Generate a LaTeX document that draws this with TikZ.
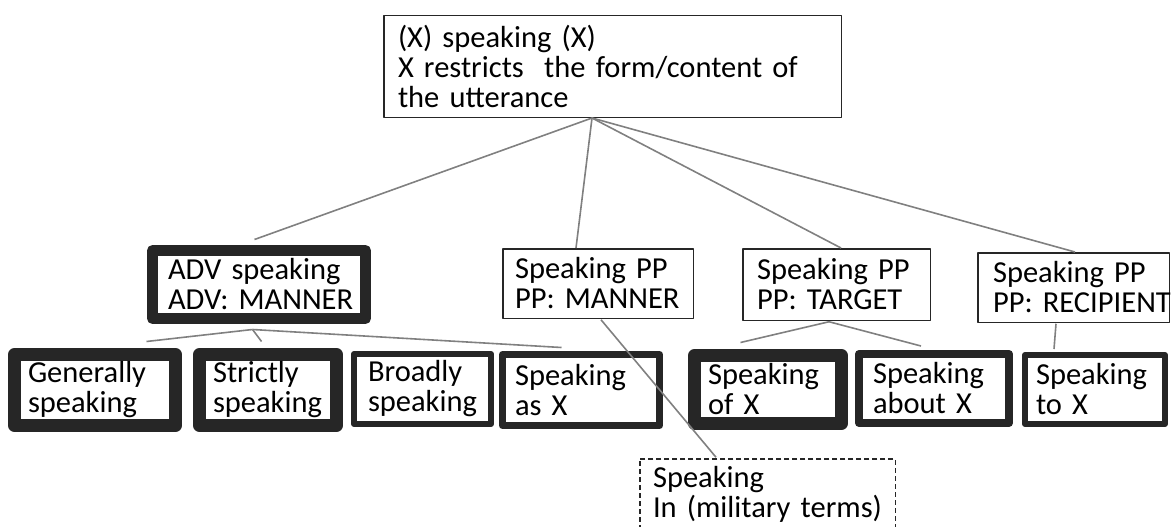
\documentclass[tikz,border=0pt]{standalone}
\usepackage{fontspec}
\setmainfont{Carlito}
\usetikzlibrary{calc}
\begin{document}
\begin{tikzpicture}[x=1pt,y=-1pt,
  box/.style={draw=black!85, line width=1.5pt, line join=round, align=left, inner ysep=0pt,
    font=\fontsize{30.5}{30}\selectfont, text=black},
  conn/.style={draw=black!50, line width=1.6pt},
  dashbox/.style={box, dash pattern=on 5pt off 3pt}]
\useasboundingbox (0,0) rectangle (1172,527);
% top
\node[box, minimum height=101.5pt, text width=429pt, inner xsep=14.25pt] (top) at (612.5,66.5)
  {\mbox{(X) speaking (X)}\\ \mbox{X restricts\ \ the form/content of}\\ \mbox{the utterance}};
% second row
\node[box, line width=11pt, minimum height=68pt, text width=182pt, inner xsep=15.5pt] (adv) at (259,284.5)
  {\mbox{ADV speaking}\\ \mbox{ADV: MANNER}};
\node[box, minimum height=69.5pt, text width=166pt, inner xsep=12.25pt] (mann) at (598,283.5)
  {\mbox{Speaking PP}\\ \mbox{PP: MANNER}};
\node[box, minimum height=71.5pt, text width=159pt, inner xsep=14.25pt] (targ) at (836.5,284.5)
  {\mbox{Speaking PP}\\ \mbox{PP: TARGET}};
\node[box, minimum height=69.5pt, text width=161pt, inner xsep=15.25pt] (reci) at (1073.5,287.5)
  {\mbox{Speaking PP}\\ \mbox{PP: RECIPIENT}};
% bottom row
\node[box, line width=13pt, minimum height=71pt, text width=134pt, inner xsep=13.5pt] (gen) at (95,390)
  {\mbox{Generally}\\ \mbox{speaking}};
\node[box, line width=13pt, minimum height=71pt, text width=110pt, inner xsep=13.5pt] (str) at (268,390)
  {\mbox{Strictly}\\ \mbox{speaking}};
\node[box, line width=6pt, minimum height=70pt, text width=109pt, inner xsep=14pt] (bro) at (422.5,389)
  {\mbox{Broadly}\\ \mbox{speaking}};
\node[box, line width=7pt, minimum height=71pt, text width=132pt, inner xsep=12.5pt] (asx) at (581,390)
  {\mbox{Speaking}\\ \mbox{as X}};
\node[box, line width=13pt, minimum height=68pt, text width=120pt, inner xsep=13.5pt] (ofx) at (768,389.5)
  {\mbox{Speaking}\\ \mbox{of X}};
\node[box, line width=8pt, minimum height=69pt, text width=122pt, inner xsep=14pt] (abx) at (934,388.5)
  {\mbox{Speaking}\\ \mbox{about X}};
\node[box, line width=6pt, minimum height=69pt, text width=118pt, inner xsep=11pt] (tox) at (1095,389.5)
  {\mbox{Speaking}\\ \mbox{to X}};
\node[dashbox, minimum height=70.5pt, text width=229pt, inner xsep=13.25pt] (mil) at (767.5,494)
  {\mbox{Speaking}\\ \mbox{In (military terms)}};
% connectors
\coordinate (o) at ($(top.south west)+(209,0)$);
\draw[conn] (o) -- ($(adv.north west)+(107.5,-5.5)$);
\draw[conn] (o) -- ($(mann.north west)+(74,0)$);
\draw[conn] (o) -- ($(targ.north west)+(99,0)$);
\draw[conn] (o) -- ($(reci.north west)+(98,0)$);
\coordinate (oa) at ($(adv.south west)+(105.5,5.5)$);
\draw[conn] (oa) -- ($(gen.north west)+(138.5,-6.5)$);
\draw[conn] (oa) -- ($(str.north west)+(68.5,-6.5)$);
\draw[conn] (oa) -- ($(asx.north west)+(62.5,-3.5)$);
\coordinate (ot) at ($(targ.south west)+(87,0.75)$);
\draw[conn] (ot) -- ($(ofx.north west)+(52.5,-6.5)$);
\draw[conn] (ot) -- ($(abx.north west)+(66,-4)$);
\draw[conn] ($(reci.south west)+(79,0.75)$) -- ($(tox.north west)+(32,-3)$);
\draw[conn] ($(mann.south west)+(99,0.75)$) -- ($(mil.north west)+(77,-0.75)$);
\end{tikzpicture}
\end{document}
